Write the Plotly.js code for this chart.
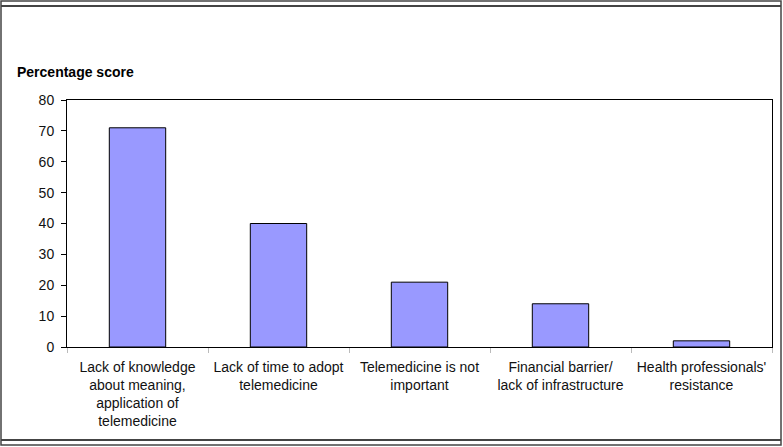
<!DOCTYPE html>
<html>
<head>
<meta charset="utf-8">
<script src="https://cdn.plot.ly/plotly-3.0.1.min.js"></script>
<style>
  html, body { margin: 0; padding: 0; background: #fff; }
  #chart { width: 783px; height: 447px; }
</style>
</head>
<body>
<div id="chart"></div>
<script>
var categories = [
  'Lack of knowledge<br>about meaning,<br>application of<br>telemedicine',
  'Lack of time to adopt<br>telemedicine',
  'Telemedicine is not<br>important',
  'Financial barrier/<br>lack of infrastructure',
  'Health professionals\'<br>resistance'
];
var scores = [71, 40, 21, 14, 2];
var yTicks = [0, 10, 20, 30, 40, 50, 60, 70, 80];

// plot area in pixels: left 67, right 772, top 100, bottom 347
var W = 783, H = 447, L = 67, R = 11, T = 100, B = 100;
var pw = W - L - R, ph = H - T - B;
function px(x) { return (x - L) / pw; }
function py(y) { return (H - B - y) / ph; }

var frameColor = '#444';

var data = [{
  type: 'bar',
  x: categories,
  y: scores,
  width: 0.4,
  marker: { color: '#9999ff', line: { color: '#000', width: 1 } },
  hoverinfo: 'x+y'
}];

var layout = {
  width: W,
  height: H,
  margin: { l: L, r: R, t: T, b: B },
  paper_bgcolor: '#fff',
  plot_bgcolor: '#fff',
  font: { family: 'Arial, "Liberation Sans", sans-serif', size: 14, color: '#111' },
  showlegend: false,
  xaxis: {
    type: 'category',
    showline: true, mirror: true, linecolor: '#000', linewidth: 1,
    ticks: 'outside', tickson: 'boundaries', ticklen: 5, tickcolor: '#bbb',
    showgrid: false,
    tickfont: { size: 14, color: '#111' },
    ticklabelstandoff: 7,
    fixedrange: true
  },
  yaxis: {
    range: [0, 80],
    tickvals: yTicks,
    showline: true, mirror: true, linecolor: '#000', linewidth: 1,
    ticks: 'outside', ticklen: 5, tickcolor: '#000',
    showgrid: false, zeroline: false,
    tickfont: { size: 14, color: '#111' },
    ticklabelstandoff: 4,
    fixedrange: true
  },
  annotations: [{
    text: '<b>Percentage score</b>',
    xref: 'paper', yref: 'paper',
    x: px(15), y: py(72),
    xanchor: 'left', yanchor: 'middle',
    showarrow: false,
    font: { size: 14, color: '#000' }
  }],
  shapes: [
    { type: 'rect', xref: 'paper', yref: 'paper',
      x0: px(1), x1: px(781), y0: py(1), y1: py(445),
      line: { color: frameColor, width: 1.5 } },
    { type: 'line', xref: 'paper', yref: 'paper',
      x0: px(1), x1: px(781), y0: py(6), y1: py(6),
      line: { color: frameColor, width: 2 } },
    { type: 'line', xref: 'paper', yref: 'paper',
      x0: px(1), x1: px(781), y0: py(440), y1: py(440),
      line: { color: frameColor, width: 2 } }
  ]
};

Plotly.newPlot('chart', data, layout, { displayModeBar: false, staticPlot: true });
</script>
</body>
</html>
